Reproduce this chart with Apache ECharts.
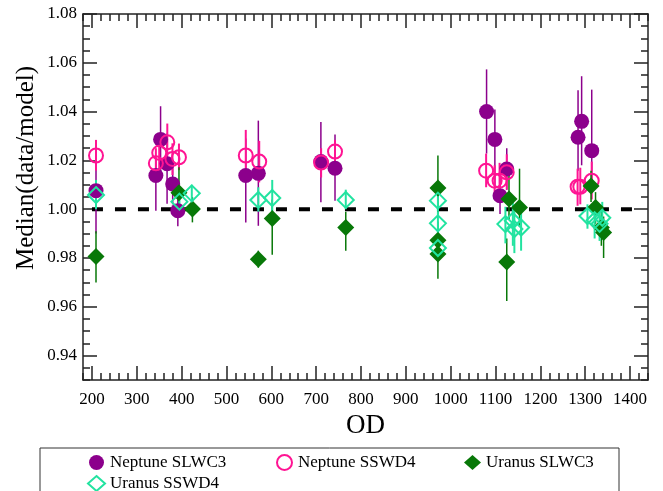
<!DOCTYPE html>
<html><head><meta charset="utf-8">
<script src="https://cdn.jsdelivr.net/npm/echarts@6/dist/echarts.min.js"></script>
<style>html,body{margin:0;padding:0;background:#fff}#c{width:663px;height:491px}</style>
</head><body><div id="c"></div>
<script>
// ---- axes ----
const xMajorTicks = [200, 300, 400, 500, 600, 700, 800, 900, 1000, 1100, 1200, 1300, 1400];
const yMajorTicks = [0.94, 0.96, 0.98, 1.00, 1.02, 1.04, 1.06, 1.08];
const xRange = [180, 1440];
const yRange = [0.93, 1.08];
const xTitle = 'OD';
const yTitle = 'Median(data/model)';
const refLine = [[200, 1.0], [1410, 1.0]];
const seriesNames = ['Neptune SLWC3', 'Neptune SSWD4', 'Uranus SLWC3', 'Uranus SSWD4'];

// ---- data: [OD, median, errLow, errHigh] ----
const nepSLWC3 = [
  [209, 1.0076, 0.990, 1.017],
  [342.5, 1.0138, 0.9994, 1.021],
  [353, 1.0286, 1.015, 1.0422],
  [367.5, 1.0186, 1.0022, 1.031],
  [380, 1.0103, 1.002, 1.018],
  [391.5, 0.9994, 0.993, 1.006],
  [543, 1.0138, 0.9946, 1.029],
  [571, 1.0147, 0.9932, 1.0363],
  [710.5, 1.0195, 1.0028, 1.0357],
  [742, 1.0168, 1.0035, 1.0306],
  [1080, 1.0400, 1.0228, 1.0573],
  [1098.5, 1.0286, 1.009, 1.0409],
  [1110, 1.0055, 0.998, 1.013],
  [1125, 1.0165, 1.008, 1.025],
  [1284, 1.0295, 1.0158, 1.0487],
  [1292, 1.0360, 1.018, 1.0545],
  [1314.5, 1.0240, 1.011, 1.049]
];
const nepSSWD4 = [
  [209, 1.0220, 1.0158, 1.0284],
  [342.5, 1.0188, 1.012, 1.025],
  [350, 1.0231, 1.016, 1.030],
  [368, 1.0274, 1.020, 1.0351],
  [379.5, 1.0206, 1.014, 1.027],
  [394, 1.0213, 1.016, 1.0269],
  [543, 1.0220, 1.012, 1.0325],
  [573, 1.0195, 1.011, 1.028],
  [711, 1.0191, 1.013, 1.025],
  [742, 1.0236, 1.018, 1.0284],
  [1079, 1.0158, 1.009, 1.0228],
  [1098, 1.0117, 1.005, 1.018],
  [1109, 1.0117, 1.004, 1.019],
  [1125, 1.0151, 1.008, 1.0225],
  [1283, 1.0092, 1.0014, 1.0166],
  [1289, 1.0092, 1.002, 1.017],
  [1314.5, 1.0117, 1.004, 1.0195]
];
const uraSLWC3 = [
  [209, 0.9806, 0.970, 0.991],
  [394, 1.0067, 0.998, 1.0172],
  [424, 1.0001, 0.9946, 1.005],
  [571, 0.9795, 0.976, 0.983],
  [602, 0.9962, 0.9813, 1.004],
  [766, 0.9925, 0.983, 0.999],
  [971.5, 1.0087, 0.998, 1.022],
  [971.5, 0.9873, 0.979, 0.995],
  [971.5, 0.9816, 0.9715, 0.990],
  [1125, 0.9784, 0.9624, 0.988],
  [1130, 1.0042, 0.996, 1.0179],
  [1153.5, 1.0007, 0.993, 1.0166],
  [1313, 1.0095, 1.003, 1.0158],
  [1323, 1.0007, 0.994, 1.007],
  [1336, 0.9925, 0.985, 0.999],
  [1341, 0.9905, 0.980, 0.997]
];
const uraSSWD4 = [
  [209, 1.0058, 1.000, 1.012],
  [395, 1.0031, 0.998, 1.008],
  [422.6, 1.0065, 1.003, 1.010],
  [571, 1.0038, 0.999, 1.009],
  [602, 1.0046, 0.999, 1.012],
  [766, 1.0038, 1.000, 1.008],
  [971.5, 1.0035, 0.999, 1.008],
  [971.5, 0.9942, 0.990, 0.999],
  [971.5, 0.9841, 0.979, 0.989],
  [1122, 0.9939, 0.986, 1.001],
  [1138.6, 0.9953, 0.985, 1.005],
  [1142, 0.9919, 0.982, 1.001],
  [1157, 0.9925, 0.983, 1.002],
  [1305, 0.9972, 0.992, 1.002],
  [1321, 0.9955, 0.988, 1.003],
  [1332, 0.9940, 0.987, 1.001],
  [1338, 0.9965, 0.990, 1.003]
];

const FONT = 'Liberation Serif';
const C_PURPLE = '#8c008c', C_PINK = '#ff1493', C_GREEN = '#087808', C_AQUA = '#22e3a0';

function errSeries(name, data, color, width) {
  return {
    type: 'custom', name: name + ' err', data: data, z: 3,
    encode: { x: 0, y: [2, 3] },
    renderItem: function (params, api) {
      const x = api.value(0);
      const p1 = api.coord([x, api.value(2)]);
      const p2 = api.coord([x, api.value(3)]);
      return { type: 'line', shape: { x1: p1[0], y1: p1[1], x2: p2[0], y2: p2[1] },
               style: { stroke: color, lineWidth: width } };
    }
  };
}
function ptSeries(name, data, symbol, size, style) {
  return { type: 'scatter', name: name, data: data, symbol: symbol, symbolSize: size,
           encode: { x: 0, y: 1 }, itemStyle: Object.assign({ opacity: 1 }, style), z: 4,
           emphasis: { disabled: true } };
}

const axisLineStyle = { color: '#222', width: 1.5 };
function xAx(pos, major, labels) {
  return {
    type: 'value', position: pos, min: xRange[0], max: xRange[1],
    interval: major ? undefined : 20,
    axisLine: { show: major, lineStyle: axisLineStyle },
    axisTick: major ? { inside: true, length: 14, lineStyle: axisLineStyle, customValues: xMajorTicks }
                    : { inside: true, length: 7, lineStyle: axisLineStyle },
    axisLabel: labels ? { customValues: xMajorTicks, margin: 11, color: '#000', fontFamily: FONT, fontSize: 17,
                          formatter: v => String(Math.round(v)) } : { show: false },
    splitLine: { show: false },
    name: labels ? xTitle : '', nameLocation: 'middle', nameGap: 20,
    nameTextStyle: { fontFamily: FONT, fontSize: 27, color: '#000' }
  };
}
function yAx(pos, major, labels) {
  return {
    type: 'value', position: pos, min: yRange[0], max: yRange[1],
    interval: major ? undefined : 0.005,
    axisLine: { show: major, lineStyle: axisLineStyle },
    axisTick: major ? { inside: true, length: 14, lineStyle: axisLineStyle, customValues: yMajorTicks }
                    : { inside: true, length: 7, lineStyle: axisLineStyle },
    axisLabel: labels ? { customValues: yMajorTicks, margin: 6, color: '#000', fontFamily: FONT, fontSize: 17,
                          formatter: v => v.toFixed(2) } : { show: false },
    splitLine: { show: false }
  };
}

const chart = echarts.init(document.getElementById('c'), null, { renderer: 'canvas' });
chart.setOption({
  animation: false,
  backgroundColor: '#fff',
  grid: { left: 83, top: 14, right: 15, bottom: 111, containLabel: false },
  xAxis: [xAx('bottom', true, true), xAx('bottom', false, false), xAx('top', true, false), xAx('top', false, false)],
  yAxis: [yAx('left', true, true), yAx('left', false, false), yAx('right', true, false), yAx('right', false, false)],
  legend: {
    left: 40, top: 448, width: 540,
    padding: [6, 8, 40, 47],
    borderColor: '#333', borderWidth: 1,
    itemWidth: 17, itemHeight: 15, itemGap: 4,
    textStyle: { fontFamily: FONT, fontSize: 17, color: '#000', width: 162, lineHeight: 15 },
    data: [
      { name: seriesNames[0] },
      { name: seriesNames[1] },
      { name: seriesNames[2], textStyle: { width: 125 } },
      { name: seriesNames[3] }
    ]
  },
  graphic: [{
    type: 'text', x: 26, y: 168, rotation: Math.PI / 2,
    style: { text: yTitle, font: '25px "Liberation Serif"', fill: '#000', align: 'center', verticalAlign: 'middle' }
  }],
  series: [
    { type: 'line', name: 'ref', data: refLine, symbol: 'none', z: 2, silent: true,
      lineStyle: { color: '#000', width: 4, type: [11, 12] } },
    errSeries(seriesNames[0], nepSLWC3, C_PURPLE, 1.5),
    ptSeries(seriesNames[0], nepSLWC3, 'circle', 15, { color: C_PURPLE }),
    errSeries(seriesNames[1], nepSSWD4, C_PINK, 2),
    ptSeries(seriesNames[1], nepSSWD4, 'circle', 14, { color: 'rgba(255,255,255,0)', borderColor: C_PINK, borderWidth: 2 }),
    errSeries(seriesNames[2], uraSLWC3, C_GREEN, 1.5),
    ptSeries(seriesNames[2], uraSLWC3, 'diamond', 17, { color: C_GREEN }),
    errSeries(seriesNames[3], uraSSWD4, C_AQUA, 2),
    ptSeries(seriesNames[3], uraSSWD4, 'diamond', 16, { color: 'rgba(255,255,255,0)', borderColor: C_AQUA, borderWidth: 2 })
  ]
});
</script></body></html>
